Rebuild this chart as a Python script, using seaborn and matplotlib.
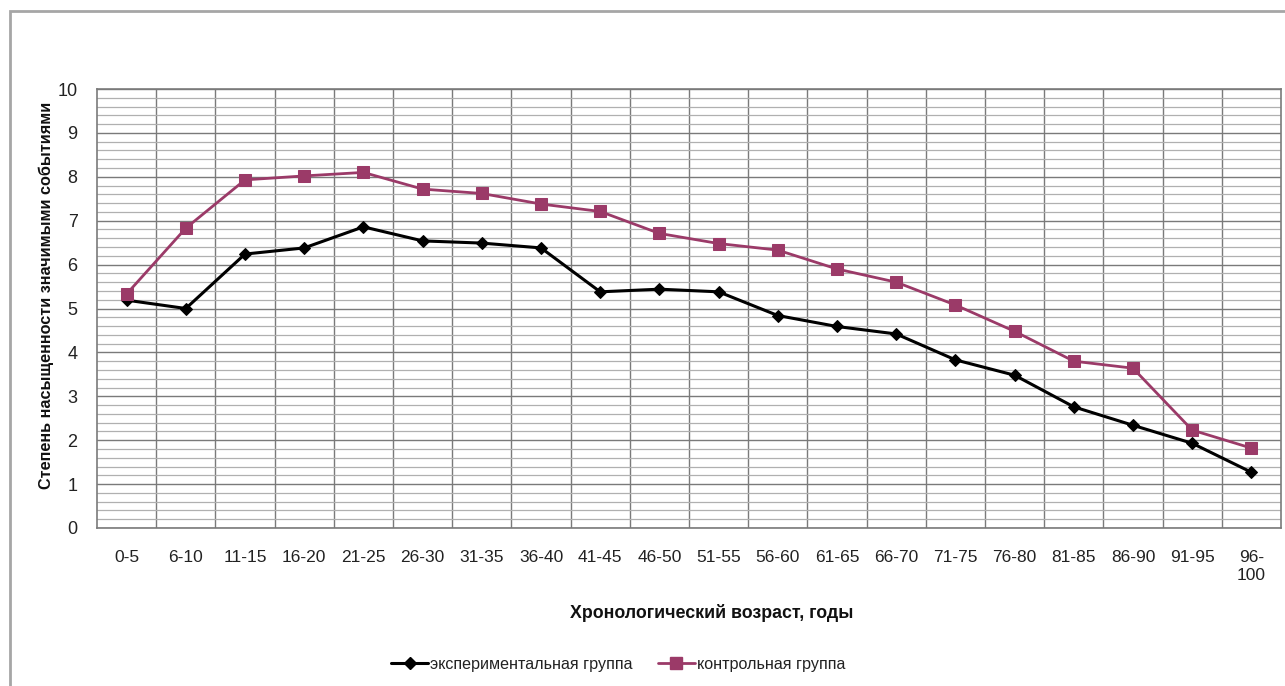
import matplotlib
matplotlib.use("Agg")
import matplotlib.pyplot as plt
from matplotlib.patches import Rectangle
from matplotlib.ticker import MultipleLocator, FixedLocator
import seaborn as sns
import pandas as pd

categories = ["0-5", "6-10", "11-15", "16-20", "21-25", "26-30", "31-35", "36-40",
              "41-45", "46-50", "51-55", "56-60", "61-65", "66-70", "71-75", "76-80",
              "81-85", "86-90", "91-95", "96-100"]
tick_labels = ["0-5", "6-10", "11-15", "16-20", "21-25", "26-30", "31-35", "36-40",
               "41-45", "46-50", "51-55", "56-60", "61-65", "66-70", "71-75", "76-80",
               "81-85", "86-90", "91-95", "96-\n100"]
experimental = [5.19, 5.0, 6.24, 6.38, 6.86, 6.54, 6.49, 6.38, 5.38, 5.44, 5.38,
                4.84, 4.59, 4.42, 3.83, 3.48, 2.76, 2.34, 1.93, 1.27]
control = [5.33, 6.83, 7.93, 8.02, 8.1, 7.72, 7.62, 7.38, 7.21, 6.71, 6.48,
           6.33, 5.9, 5.6, 5.08, 4.48, 3.8, 3.64, 2.23, 1.82]
series_names = ["экспериментальная группа", "контрольная группа"]
y_label = "Степень насыщенности значимыми событиями"
x_label = "Хронологический возраст, годы"

sns.set_theme(style="white")
plt.rcParams["font.family"] = ["Liberation Sans", "DejaVu Sans"]

df = pd.DataFrame({
    "cat": categories * 2,
    "val": experimental + control,
    "group": [series_names[0]] * len(categories) + [series_names[1]] * len(categories),
})

fig = plt.figure(figsize=(12.85, 6.86), dpi=100)
fig.patch.set_facecolor("white")
ax = fig.add_axes([97 / 1285, 1 - 528 / 686, (1281 - 97) / 1285, (528 - 89) / 686])

colors = {series_names[0]: "#000000", series_names[1]: "#9b3a68"}
markers = {series_names[0]: "D", series_names[1]: "s"}
sizes = {series_names[0]: 6.2, series_names[1]: 8.5}
widths = {series_names[0]: 2.2, series_names[1]: 2.0}

ax.set_axisbelow(True)
for name in series_names:
    sub = df[df["group"] == name]
    sns.lineplot(data=sub, x="cat", y="val", ax=ax, color=colors[name],
                 marker=markers[name], markersize=sizes[name], markeredgecolor=colors[name],
                 linewidth=widths[name], sort=False, legend=False)

ax.set_xlim(-0.5, len(categories) - 0.5)
ax.set_ylim(0, 10)
ax.yaxis.set_major_locator(MultipleLocator(1))
ax.yaxis.set_minor_locator(MultipleLocator(0.2))
ax.xaxis.set_major_locator(FixedLocator(range(len(categories))))
ax.xaxis.set_minor_locator(FixedLocator([i + 0.5 for i in range(len(categories) - 1)]))
ax.set_xticklabels(tick_labels)

ax.yaxis.grid(True, which="major", color="#7a7a7a", linewidth=1.0)
ax.yaxis.grid(True, which="minor", color="#b0b0b0", linewidth=0.9)
ax.xaxis.grid(True, which="minor", color="#7a7a7a", linewidth=1.0)
ax.xaxis.grid(False, which="major")

for s in ax.spines.values():
    s.set_color("#7a7a7a")
    s.set_linewidth(1.2)

ax.tick_params(axis="both", which="both", length=0)
ax.tick_params(axis="y", pad=14, labelsize=13, labelcolor="#222222")
ax.tick_params(axis="x", pad=16, labelsize=12.5, labelcolor="#222222")
for lbl in ax.get_xticklabels():
    lbl.set_verticalalignment("top")
    lbl.set_linespacing(1.25)

ax.set_xlabel("")
ax.set_ylabel("")
fig.text(712 / 1285, 1 - 613 / 686, x_label, ha="center", va="center",
         fontsize=12.8, fontweight="bold", color="#111111")
fig.text(46 / 1285, 1 - 295 / 686, y_label, ha="center", va="center", rotation=90,
         fontsize=11.7, fontweight="bold", color="#111111")

handles = [
    plt.Line2D([], [], color=colors[series_names[0]], marker="D",
               markersize=sizes[series_names[0]], linewidth=widths[series_names[0]]),
    plt.Line2D([], [], color=colors[series_names[1]], marker="s",
               markersize=sizes[series_names[1]], linewidth=widths[series_names[1]]),
]
fig.legend(handles, series_names, loc="center", bbox_to_anchor=(618 / 1285, 1 - 664 / 686),
           ncol=2, frameon=False, fontsize=11.6, handlelength=2.3, handletextpad=0.1,
           columnspacing=1.6, labelcolor="#222222")

fig.add_artist(Rectangle((10 / 1285, -0.05), 1.2, (1 - 11 / 686) + 0.05,
                         transform=fig.transFigure, fill=False, edgecolor="#a6a6a6",
                         linewidth=2.0))

fig.savefig("out.png", dpi=100, facecolor="white")
